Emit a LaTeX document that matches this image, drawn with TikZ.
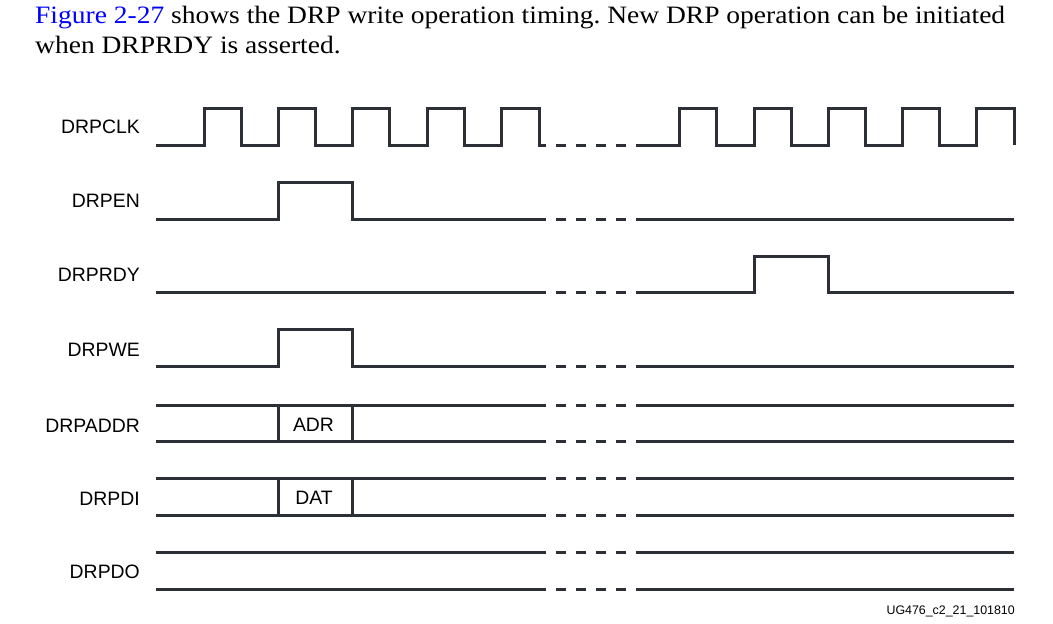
\documentclass[tikz,border=0pt]{standalone}
\usepackage{fontspec}
\usepackage{xcolor}
\setmainfont{Liberation Serif}
\newfontfamily\headfont[FakeStretch=1.1]{Liberation Serif}
\newfontfamily\sigfont{Liberation Sans}
\definecolor{wavegray}{RGB}{45,47,54}
\definecolor{figblue}{RGB}{0,0,255}
\frenchspacing

\begin{document}
\begin{tikzpicture}[x=1pt,y=1pt,yscale=-1,xscale=1,
  wave/.style={color=wavegray,line width=3pt},
  gapdash/.style={color=wavegray,line width=3pt,dash pattern=on 10pt off 10pt,dash phase=10pt},
  siglabel/.style={anchor=base east,inner sep=0pt,font=\sigfont\fontsize{19.4}{20}\selectfont},
  busval/.style={anchor=base,inner sep=0pt,font=\sigfont\fontsize{19.4}{20}\selectfont}]
\useasboundingbox (0,0) rectangle (1053,624); %picture is 1053 wide, 624 high

% Text Node
\draw (35,23.5) node [anchor=base west,inner sep=0pt,font=\headfont\fontsize{25}{29.5}\selectfont] (intro1) {\textcolor{figblue}{Figure 2-27} shows the DRP write operation timing. New DRP operation can be initiated};
% Text Node
\draw (35,53) node [anchor=base west,inner sep=0pt,font=\headfont\fontsize{25}{29.5}\selectfont] (intro2) {when DRPRDY is asserted.};

%Clock Lines
\draw [wave] (156,145) -- (204,145) -- (204,108.5) -- (241,108.5) -- (241,145) -- (278,145) -- (278,108.5) -- (315,108.5) -- (315,145) -- (352,145) -- (352,108.5) -- (389,108.5) -- (389,145) -- (427,145) -- (427,108.5) -- (464,108.5) -- (464,145) -- (501.5,145) -- (501.5,108.5) -- (539,108.5) -- (539,145) -- (546,145) ;
\draw [gapdash] (546,145) -- (636,145) ;
\draw [wave] (636,145) -- (679.5,145) -- (679.5,108.5) -- (716.5,108.5) -- (716.5,145) -- (754,145) -- (754,108.5) -- (791,108.5) -- (791,145) -- (828,145) -- (828,108.5) -- (865,108.5) -- (865,145) -- (902,145) -- (902,108.5) -- (939,108.5) -- (939,145) -- (976,145) -- (976,108.5) -- (1014,108.5) -- (1014,145) ;

%Straight Lines
\draw [wave] (156,219) -- (278,219) -- (278,182) -- (352,182) -- (352,219) -- (546,219) ;
\draw [gapdash] (546,219) -- (636,219) ;
\draw [wave] (636,219) -- (1014,219) ;

%Straight Lines
\draw [wave] (156,292.5) -- (546,292.5) ;
\draw [gapdash] (546,292.5) -- (636,292.5) ;
\draw [wave] (636,292.5) -- (754,292.5) -- (754,256) -- (828,256) -- (828,292.5) -- (1014,292.5) ;

%Straight Lines
\draw [wave] (156,366) -- (278,366) -- (278,329.5) -- (352,329.5) -- (352,366) -- (546,366) ;
\draw [gapdash] (546,366) -- (636,366) ;
\draw [wave] (636,366) -- (1014,366) ;

%Bus Lines
\draw [wave] (156,405) -- (546,405) (156,441) -- (546,441) (278,405) -- (278,441) (352,405) -- (352,441) ;
\draw [gapdash] (546,405) -- (636,405) (546,441) -- (636,441) ;
\draw [wave] (636,405) -- (1014,405) (636,441) -- (1014,441) ;

%Bus Lines
\draw [wave] (156,478) -- (546,478) (156,515) -- (546,515) (278,478) -- (278,515) (352,478) -- (352,515) ;
\draw [gapdash] (546,478) -- (636,478) (546,515) -- (636,515) ;
\draw [wave] (636,478) -- (1014,478) (636,515) -- (1014,515) ;

%Bus Lines
\draw [wave] (156,552) -- (546,552) (156,589) -- (546,589) ;
\draw [gapdash] (546,552) -- (636,552) (546,589) -- (636,589) ;
\draw [wave] (636,552) -- (1014,552) (636,589) -- (1014,589) ;

% Text Node
\draw (140,133) node [siglabel] (lblclk) {DRPCLK};
% Text Node
\draw (140,207.3) node [siglabel] (lblen) {DRPEN};
% Text Node
\draw (140,281.7) node [siglabel] (lblrdy) {DRPRDY};
% Text Node
\draw (140,356) node [siglabel] (lblwe) {DRPWE};
% Text Node
\draw (140,432.2) node [siglabel] (lbladdr) {DRPADDR};
% Text Node
\draw (140,505.5) node [siglabel] (lbldi) {DRPDI};
% Text Node
\draw (140,578.3) node [siglabel] (lbldo) {DRPDO};
% Text Node
\draw (313.5,431.7) node [busval] (adr) {ADR};
% Text Node
\draw (314,504.3) node [busval] (dat) {DAT};
% Text Node
\draw (1015,614) node [anchor=base east,inner sep=0pt,font=\sigfont\fontsize{12.4}{14}\selectfont] (figid) {UG476\_c2\_21\_101810};

\end{tikzpicture}
\end{document}
